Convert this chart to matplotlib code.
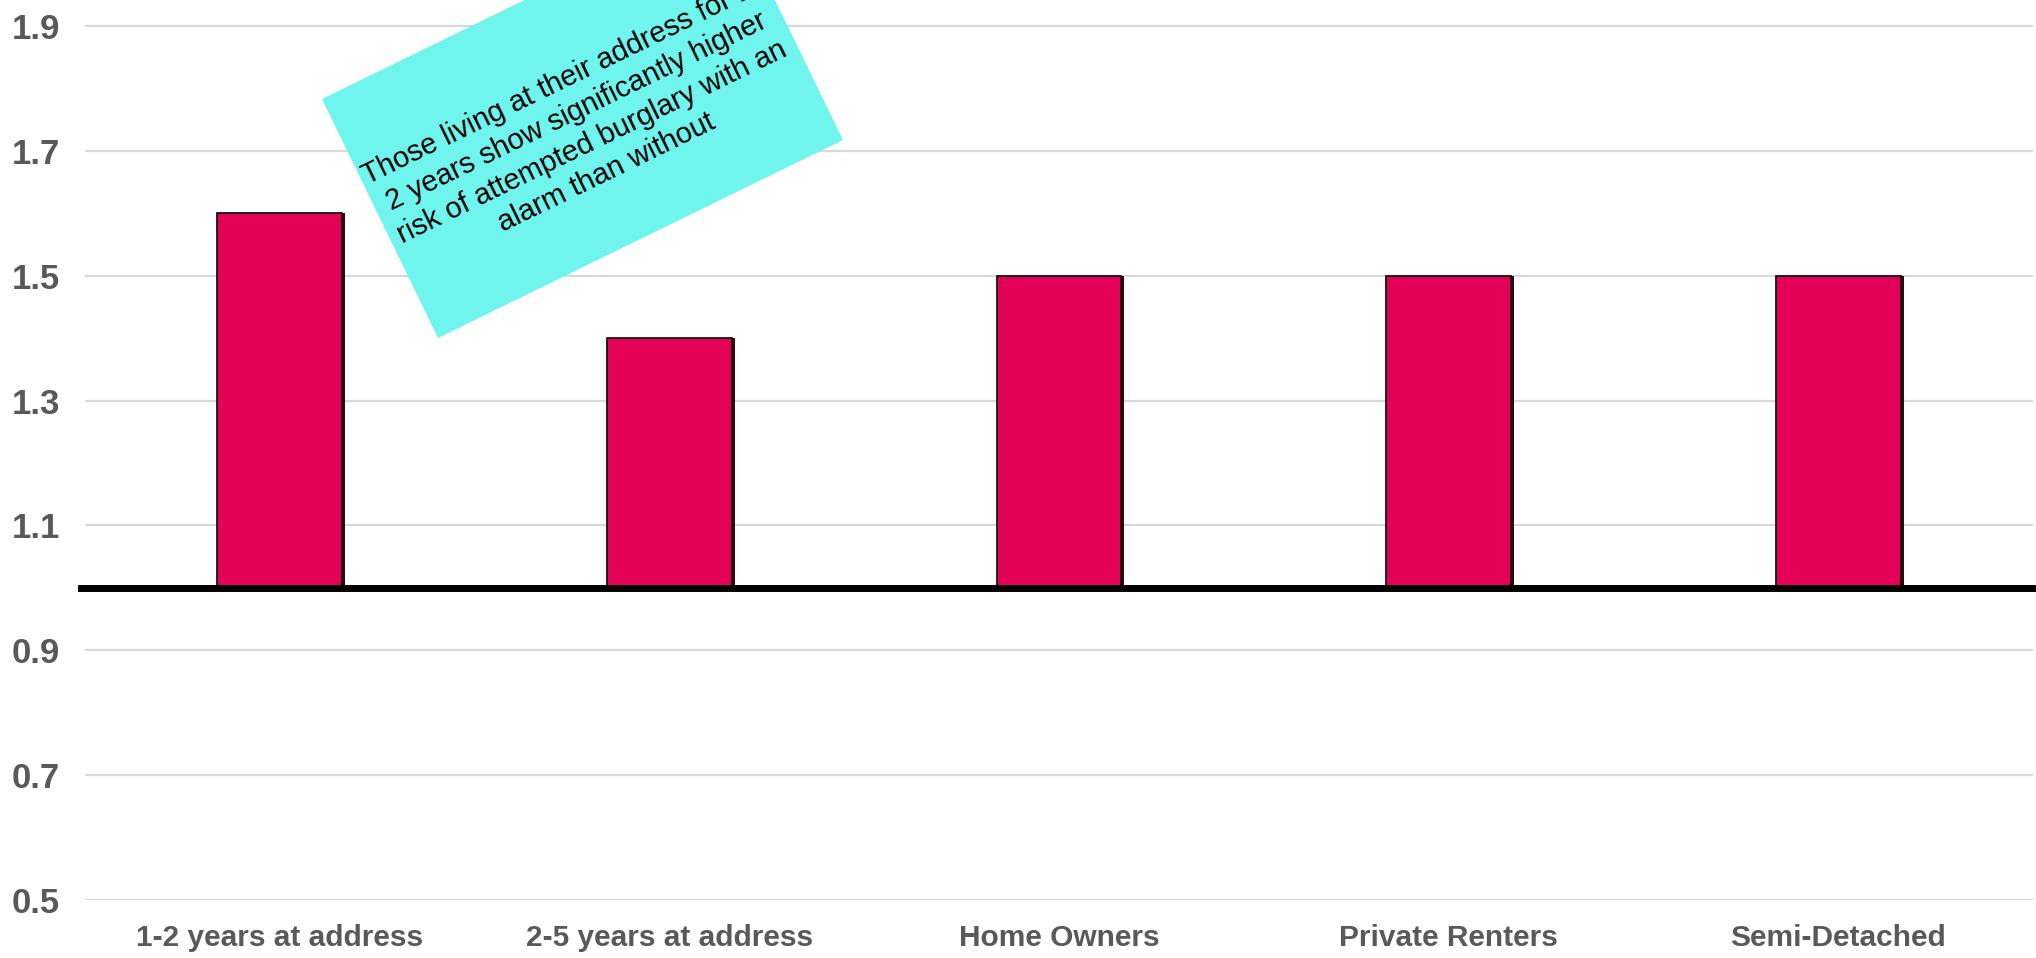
import matplotlib
matplotlib.use("Agg")
import matplotlib.pyplot as plt
from matplotlib.patches import Polygon
import matplotlib.patheffects as pe

plt.rcParams['font.family'] = ['Liberation Sans', 'DejaVu Sans']

categories = ["1-2 years at address", "2-5 years at address", "Home Owners",
              "Private Renters", "Semi-Detached"]
values = [1.6, 1.4, 1.5, 1.5, 1.5]
baseline = 1.0
yticks = [0.5, 0.7, 0.9, 1.1, 1.3, 1.5, 1.7, 1.9]
ytick_labels = ["0.5", "0.7", "0.9", "1.1", "1.3", "1.5", "1.7", "1.9"]
note = ("Those living at their address for 1-\n2 years show significantly higher\n"
        "risk of attempted burglary with an\nalarm than without")

W, H = 2036, 958
fig = plt.figure(figsize=(W / 100, H / 100), dpi=100)
ax = fig.add_axes([85 / W, 58 / H, (2033 - 85) / W, (H - 58) / H])

heights = [v - baseline for v in values]
bars = ax.bar(range(len(categories)), heights, bottom=baseline, width=0.32,
              color="#E30057", edgecolor="black", linewidth=1.2, zorder=3)
for b in bars:
    b.set_path_effects([pe.SimplePatchShadow(offset=(2.2, 0), shadow_rgbFace="#3a0014", alpha=1.0),
                        pe.Normal()])

ax.axhline(baseline, xmin=-0.002, color="black", linewidth=5, zorder=4, clip_on=False)

ax.set_xlim(-0.5, len(categories) - 0.5)
ax.set_ylim(0.5, 1.9 + 26 / 624.5)
ax.set_yticks(yticks)
ax.set_yticklabels(ytick_labels)
ax.yaxis.grid(True, color="#D9D9D9", linewidth=1.6, zorder=0)
ax.set_axisbelow(True)
ax.set_xticks(range(len(categories)))
ax.set_xticklabels(categories)
for s in ax.spines.values():
    s.set_visible(False)
ax.tick_params(axis="both", length=0, labelcolor="#595959")
ax.tick_params(axis="y", pad=18, labelsize=25)
ax.tick_params(axis="x", pad=17, labelsize=21.5)
for lab in ax.get_xticklabels() + ax.get_yticklabels():
    lab.set_fontweight("bold")

# annotation box (display pixel coordinates, y measured from top)
corners = [(322, 99), (438, 338), (843, 140), (727, -99)]
poly = Polygon([(x, H - y) for x, y in corners], closed=True, transform=None,
               facecolor="#70F5EE", edgecolor="none", zorder=10)
fig.patches.append(poly)
fig.text(584 / W, 1 - 127 / H, note, rotation=26, rotation_mode="anchor",
         ha="center", va="center", multialignment="center", fontsize=21,
         color="black", linespacing=1.27, zorder=11)

fig.savefig("out.png", dpi=100)
